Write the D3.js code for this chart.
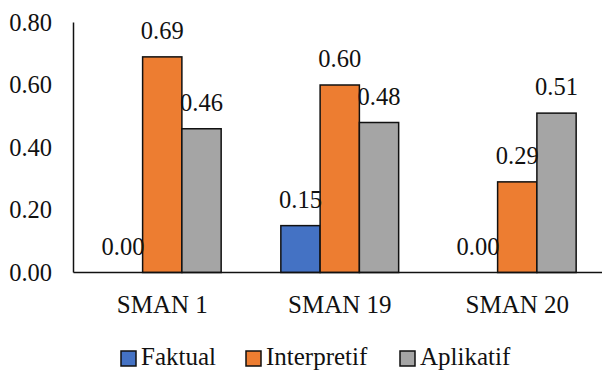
<!DOCTYPE html>
<html>
<head>
<meta charset="utf-8">
<script src="https://cdn.jsdelivr.net/npm/d3@7"></script>
<style>
  body { margin: 0; background: #fff; }
  svg text { font-family: "Liberation Serif", "Times New Roman", serif; fill: #111; }
</style>
</head>
<body>
<svg id="chart" width="602" height="372"></svg>
<script>
// data
const categories = ['SMAN 1', 'SMAN 19', 'SMAN 20'];
const series = ['Faktual', 'Interpretif', 'Aplikatif'];
const faktual = [0.00, 0.15, 0.00];
const interpretif = [0.69, 0.60, 0.29];
const aplikatif = [0.46, 0.48, 0.51];
const yTicks = [0, 0.2, 0.4, 0.6, 0.8];
const colors = ['#4472C4', '#ED7D31', '#A5A5A5'];

const values = [faktual, interpretif, aplikatif];
const rows = categories.map((c, i) => ({
  cat: c,
  vals: series.map((s, j) => ({ key: s, value: values[j][i], color: colors[j] }))
}));

const svg = d3.select('#chart');
const plotLeft = 73.5, plotRight = 606, plotTop = 22.5, plotBottom = 272.5;

const x0 = d3.scaleBand().domain(categories).range([plotLeft, plotRight]);
const x1 = d3.scaleBand().domain(series).range([0, x0.bandwidth()]).paddingOuter(0.76);
const y = d3.scaleLinear().domain([0, 0.8]).range([plotBottom, plotTop]);

// y tick labels
svg.append('g')
  .selectAll('text')
  .data(yTicks)
  .enter().append('text')
  .attr('x', 52)
  .attr('y', d => y(d) + 8)
  .attr('text-anchor', 'end')
  .style('font-size', '24.5px')
  .text(d => d.toFixed(2));

// bars
const groups = svg.append('g')
  .selectAll('g')
  .data(rows)
  .enter().append('g')
  .attr('transform', d => `translate(${x0(d.cat)},0)`);

groups.selectAll('rect')
  .data(d => d.vals)
  .enter().append('rect')
  .attr('x', d => x1(d.key))
  .attr('y', d => y(d.value))
  .attr('width', x1.bandwidth())
  .attr('height', d => plotBottom - y(d.value))
  .attr('fill', d => d.color)
  .attr('stroke', '#111')
  .attr('stroke-width', 1.5);

groups.selectAll('text')
  .data(d => d.vals)
  .enter().append('text')
  .attr('x', d => x1(d.key) + x1.bandwidth() / 2)
  .attr('y', d => y(d.value) - 18)
  .attr('text-anchor', 'middle')
  .style('font-size', '24.5px')
  .text(d => d.value.toFixed(2));

// axis lines
svg.append('line')
  .attr('x1', plotLeft).attr('x2', plotLeft)
  .attr('y1', plotTop).attr('y2', plotBottom)
  .attr('stroke', '#111').attr('stroke-width', 1.5);
svg.append('line')
  .attr('x1', plotLeft).attr('x2', 602)
  .attr('y1', plotBottom).attr('y2', plotBottom)
  .attr('stroke', '#111').attr('stroke-width', 1.5);

// category labels
svg.append('g')
  .selectAll('text')
  .data(categories)
  .enter().append('text')
  .attr('x', d => x0(d) + x0.bandwidth() / 2)
  .attr('y', 313)
  .attr('text-anchor', 'middle')
  .style('font-size', '25px')
  .text(d => d);

// legend
const legendX = [121, 246, 400];
const legend = svg.append('g')
  .selectAll('g')
  .data(series)
  .enter().append('g')
  .attr('transform', (d, i) => `translate(${legendX[i]},351)`);
legend.append('rect')
  .attr('width', 15).attr('height', 15)
  .attr('fill', (d, i) => colors[i])
  .attr('stroke', '#111').attr('stroke-width', 1.5);
legend.append('text')
  .attr('x', 20)
  .attr('y', 14)
  .style('font-size', '25px')
  .text(d => d);
</script>
</body>
</html>
